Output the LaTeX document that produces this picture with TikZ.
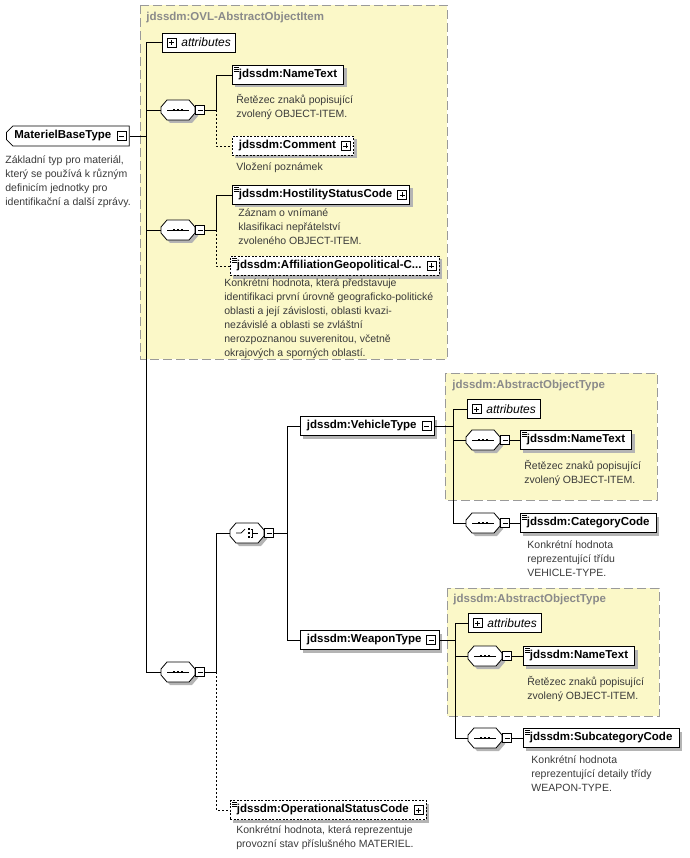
\documentclass[tikz,border=0pt]{standalone}
\usepackage{fontspec}
\setmainfont{Liberation Sans}
\usetikzlibrary{positioning, shapes.misc, shadows, calc}
\definecolor{grpfill}{HTML}{FBF8C8}
\definecolor{grpline}{HTML}{9A9A9A}
\definecolor{grptext}{HTML}{8A8A8A}
\definecolor{desctext}{HTML}{3A3A3A}
\definecolor{shadowgray}{HTML}{B4B4B4}
\tikzset{
  grp/.style={draw=grpline, fill=grpfill, dash pattern=on 9pt off 4pt},
  grplabel/.style={anchor=west, text=grptext, inner sep=0pt,
                   font=\fontsize{11.5}{13}\selectfont\bfseries},
  shad/.style={drop shadow={shadow xshift=3pt, shadow yshift=-3pt,
                            fill=shadowgray, opacity=1}},
  elem/.style={draw, fill=white, anchor=west, minimum height=19pt,
               inner ysep=0pt, inner xsep=6.5pt, shad,
               font=\fontsize{11.5}{14}\selectfont\bfseries},
  optelem/.style={elem, dash pattern=on 2pt off 1.5pt},
  simple/.style={path picture={
      \foreach \k in {2,4,6}
        \draw[solid, line width=0.5pt]
          ([xshift=2pt,yshift=-\k pt]path picture bounding box.north west) -- ++(5pt,0pt);}},
  cplx/.style={chamfered rectangle, chamfered rectangle xsep=3pt,
               chamfered rectangle corners={north west, south west},
               draw, fill=white, anchor=west, minimum height=20pt,
               inner ysep=0pt, inner xsep=5pt,
               font=\fontsize{11.5}{14}\selectfont\bfseries},
  attrbox/.style={draw, fill=white, anchor=west, minimum height=19pt,
                  inner ysep=0pt, inner xsep=5pt,
                  font=\fontsize{12}{14}\selectfont\itshape},
  comp/.style={minimum width=34pt, minimum height=20pt, inner sep=0pt},
  pmbox/.style={draw, solid, fill=white, minimum size=9pt, inner sep=0pt},
  minusbox/.style={pmbox, path picture={
      \draw ([xshift=2pt]path picture bounding box.west)
         -- ([xshift=-2pt]path picture bounding box.east);}},
  plusbox/.style={pmbox, path picture={
      \draw ([xshift=2pt]path picture bounding box.west)
         -- ([xshift=-2pt]path picture bounding box.east);
      \draw ([yshift=2pt]path picture bounding box.south)
         -- ([yshift=-2pt]path picture bounding box.north);}},
  desc/.style={anchor=north west, align=left, inner sep=0pt, text=desctext,
               font=\fontsize{10.5}{14}\selectfont},
  optline/.style={dash pattern=on 2pt off 2pt},
}
\newcommand\octpath{(-17,-3) -- (-11,-10) -- (11,-10) -- (17,-3) -- (17,3) -- (11,10) -- (-11,10) -- (-17,3) -- cycle}
\begin{document}
\begin{tikzpicture}[x=1pt, y=-1pt, line width=0.8pt]
  \useasboundingbox (0,0) rectangle (689,858);

  %% ── groups ──
  \draw[grp] (140,5) rectangle (447,359);
  \node[grplabel] (g1l) at (146,18) {jdssdm:OVL-AbstractObjectItem};
  \draw[grp] (445,373) rectangle (657,500);
  \node[grplabel] (g2l) at (452,386) {jdssdm:AbstractObjectType};
  \draw[grp] (447,588) rectangle (659,716);
  \node[grplabel] (g3l) at (453,600) {jdssdm:AbstractObjectType};

  %% ── root type ──
  \node[cplx] (mbt) at (6,136) {MaterielBaseType\kern10pt};
  \node[minusbox] (mbtm) at ([xshift=-8pt]mbt.east) {};
  \node[desc] (mbtd) at (5,155) {Základní typ pro materiál,\\který se používá k různým\\definicím jednotky pro\\identifikační a další zprávy.};

  %% ── compositors ──
  \node[comp] (s1) at (178,110) {};
  \node[comp] (s2) at (178,230) {};
  \node[comp] (s3) at (178,672) {};
  \node[comp] (ch) at (247,533) {};
  \node[comp] (sv1) at (483,440) {};
  \node[comp] (sv2) at (483,523) {};
  \node[comp] (sw1) at (485,656) {};
  \node[comp] (sw2) at (485,738) {};
  \foreach \n in {s1,s2,s3,ch,sv1,sv2,sw1,sw2}{
    \begin{scope}[shift={(\n)}]
      \fill[shadowgray, shift={(3,3)}] \octpath;
      \draw[fill=white] \octpath;
    \end{scope}
    \node[minusbox, right=0pt of \n] (\n m) {};
  }
  \foreach \n in {s1,s2,s3,sv1,sv2,sw1,sw2}{
    \begin{scope}[shift={(\n)}, line width=0.7pt]
      \draw (-11,0) -- (11,0);
      \foreach \d in {-4,0,4}
        \fill (\d-1.3,-1.3) rectangle (\d+1.3,1.3);
    \end{scope}
  }
  \begin{scope}[shift={(ch)}, line width=0.7pt]
    \draw (-11,0) -- (-6,0) -- (-2,-4);
    \foreach \d in {-4,0,4}
      \fill (0.5,\d-1.1) rectangle (2.7,\d+1.1);
    \draw (3.5,-4) -- (5,-4) -- (5,4) -- (3.5,4);
    \draw (5,0) -- (11,0);
  \end{scope}

  %% ── OVL-AbstractObjectItem content ──
  \node[attrbox] (attr1) at (162,42.5) {\hspace{14pt}attributes};
  \node[plusbox] (attr1p) at ([xshift=9.5pt]attr1.west) {};

  \node[elem, simple] (name1) at (232,75) {jdssdm:NameText};
  \node[desc] (name1d) at (236,94) {Řetězec znaků popisující\\zvolený OBJECT-ITEM.};
  \node[optelem] (cmt) at (232,146) {jdssdm:Comment\kern11pt};
  \node[plusbox] (cmtp) at ([xshift=-8pt]cmt.east) {};
  \node[desc] (cmtd) at (236,162) {Vložení poznámek};

  \node[elem, simple] (host) at (232,195) {jdssdm:HostilityStatusCode\kern11pt};
  \node[plusbox] (hostp) at ([xshift=-8pt]host.east) {};
  \node[desc] (hostd) at (238,208) {Záznam o vnímané\\klasifikaci nepřátelství\\zvoleného OBJECT-ITEM.};
  \node[optelem, simple] (affil) at (230,266) {jdssdm:AffiliationGeopolitical-C...\kern11pt};
  \node[plusbox] (affilp) at ([xshift=-8pt]affil.east) {};
  \node[desc] (affild) at (224,278) {Konkrétní hodnota, která představuje\\identifikaci první úrovně geograficko-politické\\oblasti a její závislosti, oblasti kvazi-\\nezávislé a oblasti se zvláštní\\nerozpoznanou suverenitou, včetně\\okrajových a sporných oblastí.};

  %% ── own content ──
  \node[optelem, simple] (opst) at (230,810) {jdssdm:OperationalStatusCode\kern11pt};
  \node[plusbox] (opstp) at ([xshift=-8pt]opst.east) {};
  \node[desc] (opstd) at (236,825) {Konkrétní hodnota, která reprezentuje\\provozní stav příslušného MATERIEL.};

  %% ── vehicle ──
  \node[elem] (veh) at (300,426) {jdssdm:VehicleType\kern11pt};
  \node[minusbox] (vehm) at ([xshift=-8pt]veh.east) {};
  \node[attrbox] (attr2) at (467,409) {\hspace{14pt}attributes};
  \node[plusbox] (attr2p) at ([xshift=9.5pt]attr2.west) {};
  \node[elem, simple] (name2) at (520,440) {jdssdm:NameText};
  \node[desc] (name2d) at (524,460) {Řetězec znaků popisující\\zvolený OBJECT-ITEM.};
  \node[elem, simple] (cat) at (520,523) {jdssdm:CategoryCode};
  \node[desc] (catd) at (527,540) {Konkrétní hodnota\\reprezentující třídu\\VEHICLE-TYPE.};

  %% ── weapon ──
  \node[elem] (weap) at (300,640) {jdssdm:WeaponType\kern11pt};
  \node[minusbox] (weapm) at ([xshift=-8pt]weap.east) {};
  \node[attrbox] (attr3) at (468,623) {\hspace{14pt}attributes};
  \node[plusbox] (attr3p) at ([xshift=9.5pt]attr3.west) {};
  \node[elem, simple] (name3) at (523,656) {jdssdm:NameText};
  \node[desc] (name3d) at (527,676) {Řetězec znaků popisující\\zvolený OBJECT-ITEM.};
  \node[elem, simple] (subcat) at (523,738) {jdssdm:SubcategoryCode};
  \node[desc] (subcatd) at (531,755) {Konkrétní hodnota\\reprezentující detaily třídy\\WEAPON-TYPE.};

  %% ── connectors ──
  \coordinate (bus0) at (146,136);
  \coordinate (bus1) at (216,110);
  \coordinate (bus2) at (216,230);
  \coordinate (bus3) at (216,672);
  \coordinate (bus4) at (287,533);
  \coordinate (bus5) at (453,426);
  \coordinate (bus6) at (455,640);

  \draw (mbt.east) -- (bus0);
  \foreach \c in {attr1,s1,s2,s3}
    \draw (bus0) |- (\c.west);
  \draw (s1m.east) -- (bus1) |- (name1.west);
  \draw[optline] (bus1) |- (cmt.west);
  \draw (s2m.east) -- (bus2) |- (host.west);
  \draw[optline] (bus2) |- (affil.west);
  \draw (s3m.east) -- (bus3) |- (ch.west);
  \draw[optline] (bus3) |- (opst.west);
  \draw (chm.east) -- (bus4) |- (veh.west);
  \draw (bus4) |- (weap.west);
  \draw (veh.east) -- (bus5) |- (attr2.west);
  \foreach \c in {sv1,sv2}
    \draw (bus5) |- (\c.west);
  \draw (sv1m.east) -- (name2.west);
  \draw (sv2m.east) -- (cat.west);
  \draw (weap.east) -- (bus6) |- (attr3.west);
  \foreach \c in {sw1,sw2}
    \draw (bus6) |- (\c.west);
  \draw (sw1m.east) -- (name3.west);
  \draw (sw2m.east) -- (subcat.west);
\end{tikzpicture}
\end{document}
